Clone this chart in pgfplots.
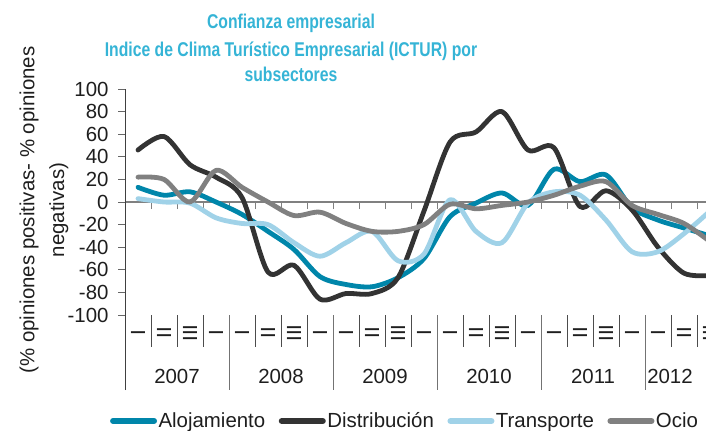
\documentclass[border=0pt]{standalone}
\usepackage{pgfplots}
\pgfplotsset{compat=1.18}
\usepackage{fontspec}
\setmainfont{Liberation Sans}
\newfontfamily\titlefont[FakeStretch=0.79]{Liberation Sans}
\definecolor{aloj}{RGB}{0,134,170}
\definecolor{distr}{RGB}{51,51,51}
\definecolor{transp}{RGB}{160,210,232}
\definecolor{ocio}{RGB}{128,128,128}
\definecolor{titlecol}{RGB}{53,180,214}
\definecolor{txt}{RGB}{30,30,30}
\newcommand{\fnt}{\fontsize{20.5}{24}\selectfont}
\begin{document}
\begin{tikzpicture}
\useasboundingbox (0bp,0bp) rectangle (706bp,-431bp);
\begin{scope}
\clip (0bp,0bp) rectangle (706bp,-431bp);
\begin{axis}[
  at={(125bp,-390bp)}, anchor=south west,
  scale only axis, width=598bp, height=301bp,
  xmin=-0.5, xmax=22.5, ymin=-166.372, ymax=100,
  axis y line*=left, axis x line*=middle,
  ytick={-100,-80,...,100},
  yticklabels={-100,-80,-60,-40,-20,0,20,40,60,80,100},
  xtick={0.5,1.5,...,21.5}, xticklabels={},
  tick align=outside, major tick length=7bp,
  x axis line style={draw=black!50, line width=1.4pt},
  y axis line style={draw=black!75, line width=0.8pt},
  x tick style={draw=black!50, line width=0.8pt},
  y tick style={draw=black!60, line width=0.8pt},
  yticklabel style={font=\fnt, text=txt, xshift=-6bp},
  legend columns=4,
  legend style={at={(-0.025,-0.103)}, anchor=west, draw=none, fill=none,
    inner sep=0pt, outer sep=0pt, font=\fnt, text=txt,
    nodes={inner sep=1.5bp},
    /tikz/every even column/.append style={column sep=12bp}},
  legend image code/.code={\draw[#1, line width=6bp, line cap=round] (3bp,0bp) -- (44bp,0bp);},
  every axis plot/.append style={line width=4.8bp, smooth, line cap=round, line join=round, mark=none},
]
\addplot[aloj] coordinates {
(0,13) (1,6) (2,9) (3,0) (4,-11) (5,-26) (6,-42) (7,-66) (8,-73) (9,-75) (10,-67) (11,-50)
(12,-13) (13,-1) (14,8) (15,-3) (16,29) (17,18) (18,24) (19,-5) (20,-16) (21,-23) (22,-30)};
\addlegendentry{Alojamiento}
\addplot[distr] coordinates {
(0,46) (1,58) (2,33) (3,22) (4,4) (5,-62) (6,-56) (7,-86) (8,-81) (9,-81) (10,-67) (11,-8)
(12,53) (13,62) (14,80) (15,46) (16,48) (17,-4) (18,10) (19,-7) (20,-40) (21,-63) (22,-65)};
\addlegendentry{Distribución}
\addplot[transp] coordinates {
(0,3) (1,0) (2,-1) (3,-14) (4,-19) (5,-20) (6,-36) (7,-48) (8,-36) (9,-26) (10,-52) (11,-46)
(12,2) (13,-26) (14,-36) (15,-1) (16,9) (17,6) (18,-16) (19,-44) (20,-44) (21,-28) (22,-8)};
\addlegendentry{Transporte}
\addplot[ocio] coordinates {
(0,22) (1,20) (2,0) (3,28) (4,13) (5,0) (6,-12) (7,-9) (8,-19) (9,-26) (10,-26) (11,-20)
(12,-2) (13,-6) (14,-3) (15,0) (16,6) (17,14) (18,18) (19,-3) (20,-11) (21,-19) (22,-35)};
\addlegendentry{Ocio}
\end{axis}
\begin{scope}[x=1bp,y=1bp]
% category separators
\foreach \k in {0,...,5} {
  \foreach \j in {1,2,3} {
    \draw[black!70, line width=0.8pt] ({125+104*\k+26*\j},-315) -- ++(0,-32);
  }
}
\foreach \k in {1,...,5} {
  \draw[black!55, line width=0.8pt] ({125+104*\k},-315) -- ({125+104*\k},-390);
}
% quarter labels
\foreach \k in {0,...,5} {
  \foreach \j/\l in {0/I,1/II,2/III,3/I} {
    \node[rotate=90, font=\fnt, text=txt, inner sep=0pt] at ({138+104*\k+26*\j},-333) {\l};
  }
}
% year labels
\foreach \k/\y in {0/2007,1/2008,2/2009,3/2010,4/2011} {
  \node[font=\fnt, text=txt, anchor=base] at ({177+104*\k},-383) {\y};
}
\node[font=\fnt, text=txt, anchor=base] at (670,-383) {2012};
% y label
\node[rotate=90, align=center, font=\fontsize{20.5}{30}\selectfont, text=txt] at (44,-210)
  {(\% opiniones positivas- \% opiniones\\negativas)};
% title
\node[anchor=base, font=\titlefont\bfseries\fontsize{20}{24}\selectfont, text=titlecol] at (291,-28) {Confianza empresarial};
\node[anchor=base, font=\titlefont\bfseries\fontsize{20}{24}\selectfont, text=titlecol] at (291,-56.5) {Indice de Clima Turístico Empresarial (ICTUR) por};
\node[anchor=base, font=\titlefont\bfseries\fontsize{20}{24}\selectfont, text=titlecol] at (291,-81.5) {subsectores};
\end{scope}
\end{scope}
\end{tikzpicture}
\end{document}
